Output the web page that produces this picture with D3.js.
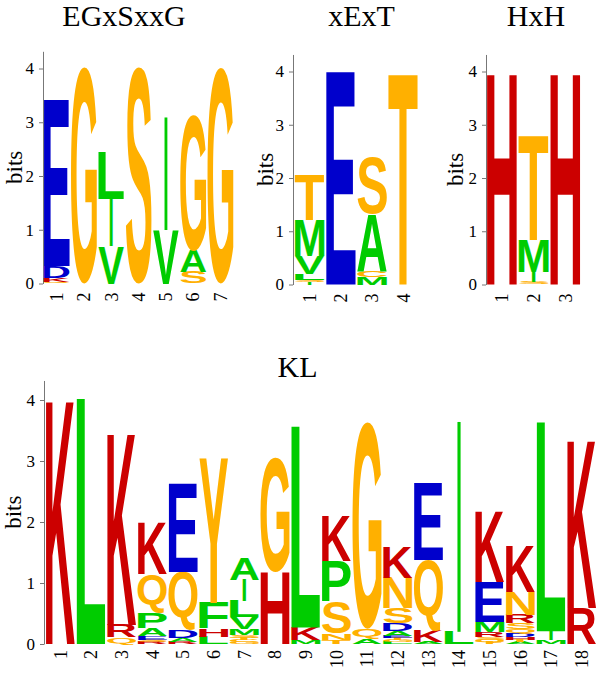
<!DOCTYPE html>
<html>
<head>
<meta charset="utf-8">
<script src="https://cdn.jsdelivr.net/npm/d3@7"></script>
<style>
  body { margin: 0; background: #fff; }
  .axis path, .axis line { stroke: #777; }
</style>
</head>
<body>
<div class="canvas"></div>
<script>
// each column lists its residues bottom -> top as [residue, bits]
const egColumns = [
    [["Q", 0.03], ["K", 0.07], ["D", 0.22], ["E", 3.1]],
    [["G", 4.03]],
    [["V", 0.69], ["I", 0.89], ["L", 0.89]],
    [["S", 4.03]],
    [["V", 1.0], ["I", 2.13]],
    [["S", 0.21], ["A", 0.4], ["G", 2.52]],
    [["G", 4.02]]
];

const xextColumns = [
    [["I", 0.04], ["S", 0.04], ["L", 0.12], ["V", 0.34], ["M", 0.68], ["T", 0.86]],
    [["E", 4.0]],
    [["M", 0.14], ["C", 0.12], ["A", 1.06], ["S", 1.07]],
    [["T", 4.0]]
];

const hxhColumns = [
    [["H", 4.0]],
    [["S", 0.04], ["I", 0.2], ["M", 0.6], ["T", 1.97]],
    [["H", 4.0]]
];

const klColumns = [
    [["K", 4.03]],
    [["L", 4.03]],
    [["Q", 0.11], ["R", 0.2], ["K", 3.17]],
    [["R", 0.04], ["S", 0.03], ["E", 0.06], ["A", 0.13], ["P", 0.25], ["Q", 0.63], ["K", 0.86]],
    [["R", 0.04], ["A", 0.06], ["D", 0.13], ["Q", 0.95], ["E", 1.45]],
    [["L", 0.12], ["H", 0.13], ["F", 0.42], ["Y", 2.37]],
    [["G", 0.03], ["C", 0.03], ["T", 0.04], ["S", 0.05], ["M", 0.1], ["V", 0.19], ["L", 0.26], ["I", 0.35], ["A", 0.35]],
    [["H", 1.19], ["G", 1.88]],
    [["M", 0.06], ["K", 0.21], ["L", 3.3]],
    [["T", 0.07], ["N", 0.11], ["S", 0.52], ["P", 0.66], ["K", 0.75]],
    [["A", 0.08], ["Q", 0.17], ["G", 3.39]],
    [["L", 0.03], ["G", 0.03], ["T", 0.04], ["E", 0.03], ["A", 0.09], ["D", 0.12], ["S", 0.25], ["N", 0.5], ["K", 0.5]],
    [["A", 0.03], ["K", 0.18], ["Q", 1.17], ["E", 1.26]],
    [["L", 0.2], ["I", 3.5]],
    [["T", 0.03], ["Q", 0.04], ["S", 0.05], ["R", 0.08], ["M", 0.16], ["E", 0.65], ["K", 1.18]],
    [["A", 0.03], ["T", 0.04], ["H", 0.04], ["D", 0.05], ["Q", 0.08], ["S", 0.1], ["R", 0.14], ["N", 0.38], ["K", 0.76]],
    [["M", 0.07], ["I", 0.14], ["L", 3.43]],
    [["R", 0.59], ["K", 2.77]]
];

const titles = ["EGxSxxG", "xExT", "HxH", "KL"];
const yTicks = [0, 1, 2, 3, 4];
const maxBits = 4.32;

// residue colour groups
const hydrophobic = "AVLIMPFW";
const polar = "GSTYCNQ";
const basic = "KRH";
const acidic = "DE";

function residueColor(r) {
    if (hydrophobic.includes(r)) return "#00CC00";
    if (polar.includes(r)) return "#FFB000";
    if (basic.includes(r)) return "#CC0000";
    if (acidic.includes(r)) return "#0000CC";
    return "#000";
}

const serif = '"Liberation Serif", "Times New Roman", serif';
const logoFont = '"Liberation Sans", Arial, sans-serif';

// panel layout (pixels)
const panels = [
    {cols: egColumns, title: titles[0], x0: 43, step: 27.3, axisX: 43, y0: 283.5, ppb: 53.75,
        titleX: 124, titleY: 26, bitsX: 21.5, labelGap: 9},
    {cols: xextColumns, title: titles[1], x0: 294, step: 31.2, axisX: 293, y0: 284.5, ppb: 53.25,
        titleX: 361.5, titleY: 26, bitsX: 273, labelGap: 9},
    {cols: hxhColumns, title: titles[2], x0: 486, step: 31.7, axisX: 486, y0: 284.5, ppb: 53.25,
        titleX: 536, titleY: 26, bitsX: 463, labelGap: 9},
    {cols: klColumns, title: titles[3], x0: 45, step: 30.67, axisX: 44, y0: 644, ppb: 61,
        titleX: 297.5, titleY: 377, bitsX: 20.5, labelGap: 6}
];

const svg = d3.select('.canvas')
    .append('svg')
    .attr('width', 600)
    .attr('height', 674)
    .style('display', 'block');

// glyph ink metrics from a canvas, so letters can be stretched to their boxes
const ctx = document.createElement('canvas').getContext('2d');
ctx.font = 'bold 100px ' + logoFont;
const metricCache = {};
function glyphMetrics(ch) {
    if (!metricCache[ch]) {
        const m = ctx.measureText(ch);
        metricCache[ch] = {
            left: m.actualBoundingBoxLeft,
            right: m.actualBoundingBoxRight,
            ascent: m.actualBoundingBoxAscent,
            descent: m.actualBoundingBoxDescent
        };
    }
    return metricCache[ch];
}

function drawPanel(p) {
    const n = p.cols.length;

    const x = d3.scaleBand()
        .domain(d3.range(1, n + 1))
        .range([p.x0, p.x0 + n * p.step])
        .paddingInner(0.05)
        .paddingOuter(0.025);

    const y = d3.scaleLinear()
        .domain([0, maxBits])
        .range([p.y0, p.y0 - maxBits * p.ppb]);

    const g = svg.append('g');

    // title
    g.append('text')
        .attr('x', p.titleX)
        .attr('y', p.titleY)
        .attr('text-anchor', 'middle')
        .style('font-family', serif)
        .style('font-size', '30px')
        .text(p.title);

    // y axis
    const yAxis = d3.axisLeft(y)
        .tickValues(yTicks)
        .tickFormat(d3.format('d'))
        .tickSize(4)
        .tickPadding(5)
        .tickSizeOuter(0);

    const axisG = g.append('g')
        .attr('class', 'axis')
        .attr('transform', `translate(${p.axisX}, 0)`)
        .call(yAxis);
    axisG.selectAll('text')
        .style('font-family', serif)
        .style('font-size', '17px')
        .attr('fill', '#000');

    g.append('text')
        .attr('transform', `translate(${p.bitsX}, ${y(maxBits / 2)}) rotate(-90)`)
        .attr('text-anchor', 'middle')
        .style('font-family', serif)
        .style('font-size', '23px')
        .text('bits');

    // x labels, rotated
    g.selectAll('.xlab')
        .data(x.domain())
        .enter()
        .append('text')
        .attr('class', 'xlab')
        .attr('transform', d => `translate(${x(d) + x.bandwidth() / 2}, ${p.y0 + p.labelGap}) rotate(-90)`)
        .attr('text-anchor', 'end')
        .attr('dy', '0.35em')
        .style('font-family', serif)
        .style('font-size', '18px')
        .text(d => d);

    // stacked letters
    p.cols.forEach((col, i) => {
        let cum = 0;
        col.forEach(([res, bits]) => {
            const top = y(cum + bits);
            const bottom = y(cum);
            cum += bits;

            let bx = x(i + 1);
            let bw = x.bandwidth();
            if (res === 'I') { // I is drawn as a thin bar
                const iw = bw * 0.12;
                bx = bx + (bw - iw) / 2;
                bw = iw;
            }
            const bh = bottom - top;
            const m = glyphMetrics(res);
            const sx = bw / (m.left + m.right);
            const sy = bh / (m.ascent + m.descent);

            g.append('text')
                .attr('fill', residueColor(res))
                .attr('transform', `translate(${bx + sx * m.left}, ${top + sy * m.ascent}) scale(${sx}, ${sy})`)
                .style('font-family', logoFont)
                .style('font-weight', 'bold')
                .style('font-size', '100px')
                .text(res);
        });
    });
}

panels.forEach(drawPanel);
</script>
</body>
</html>
